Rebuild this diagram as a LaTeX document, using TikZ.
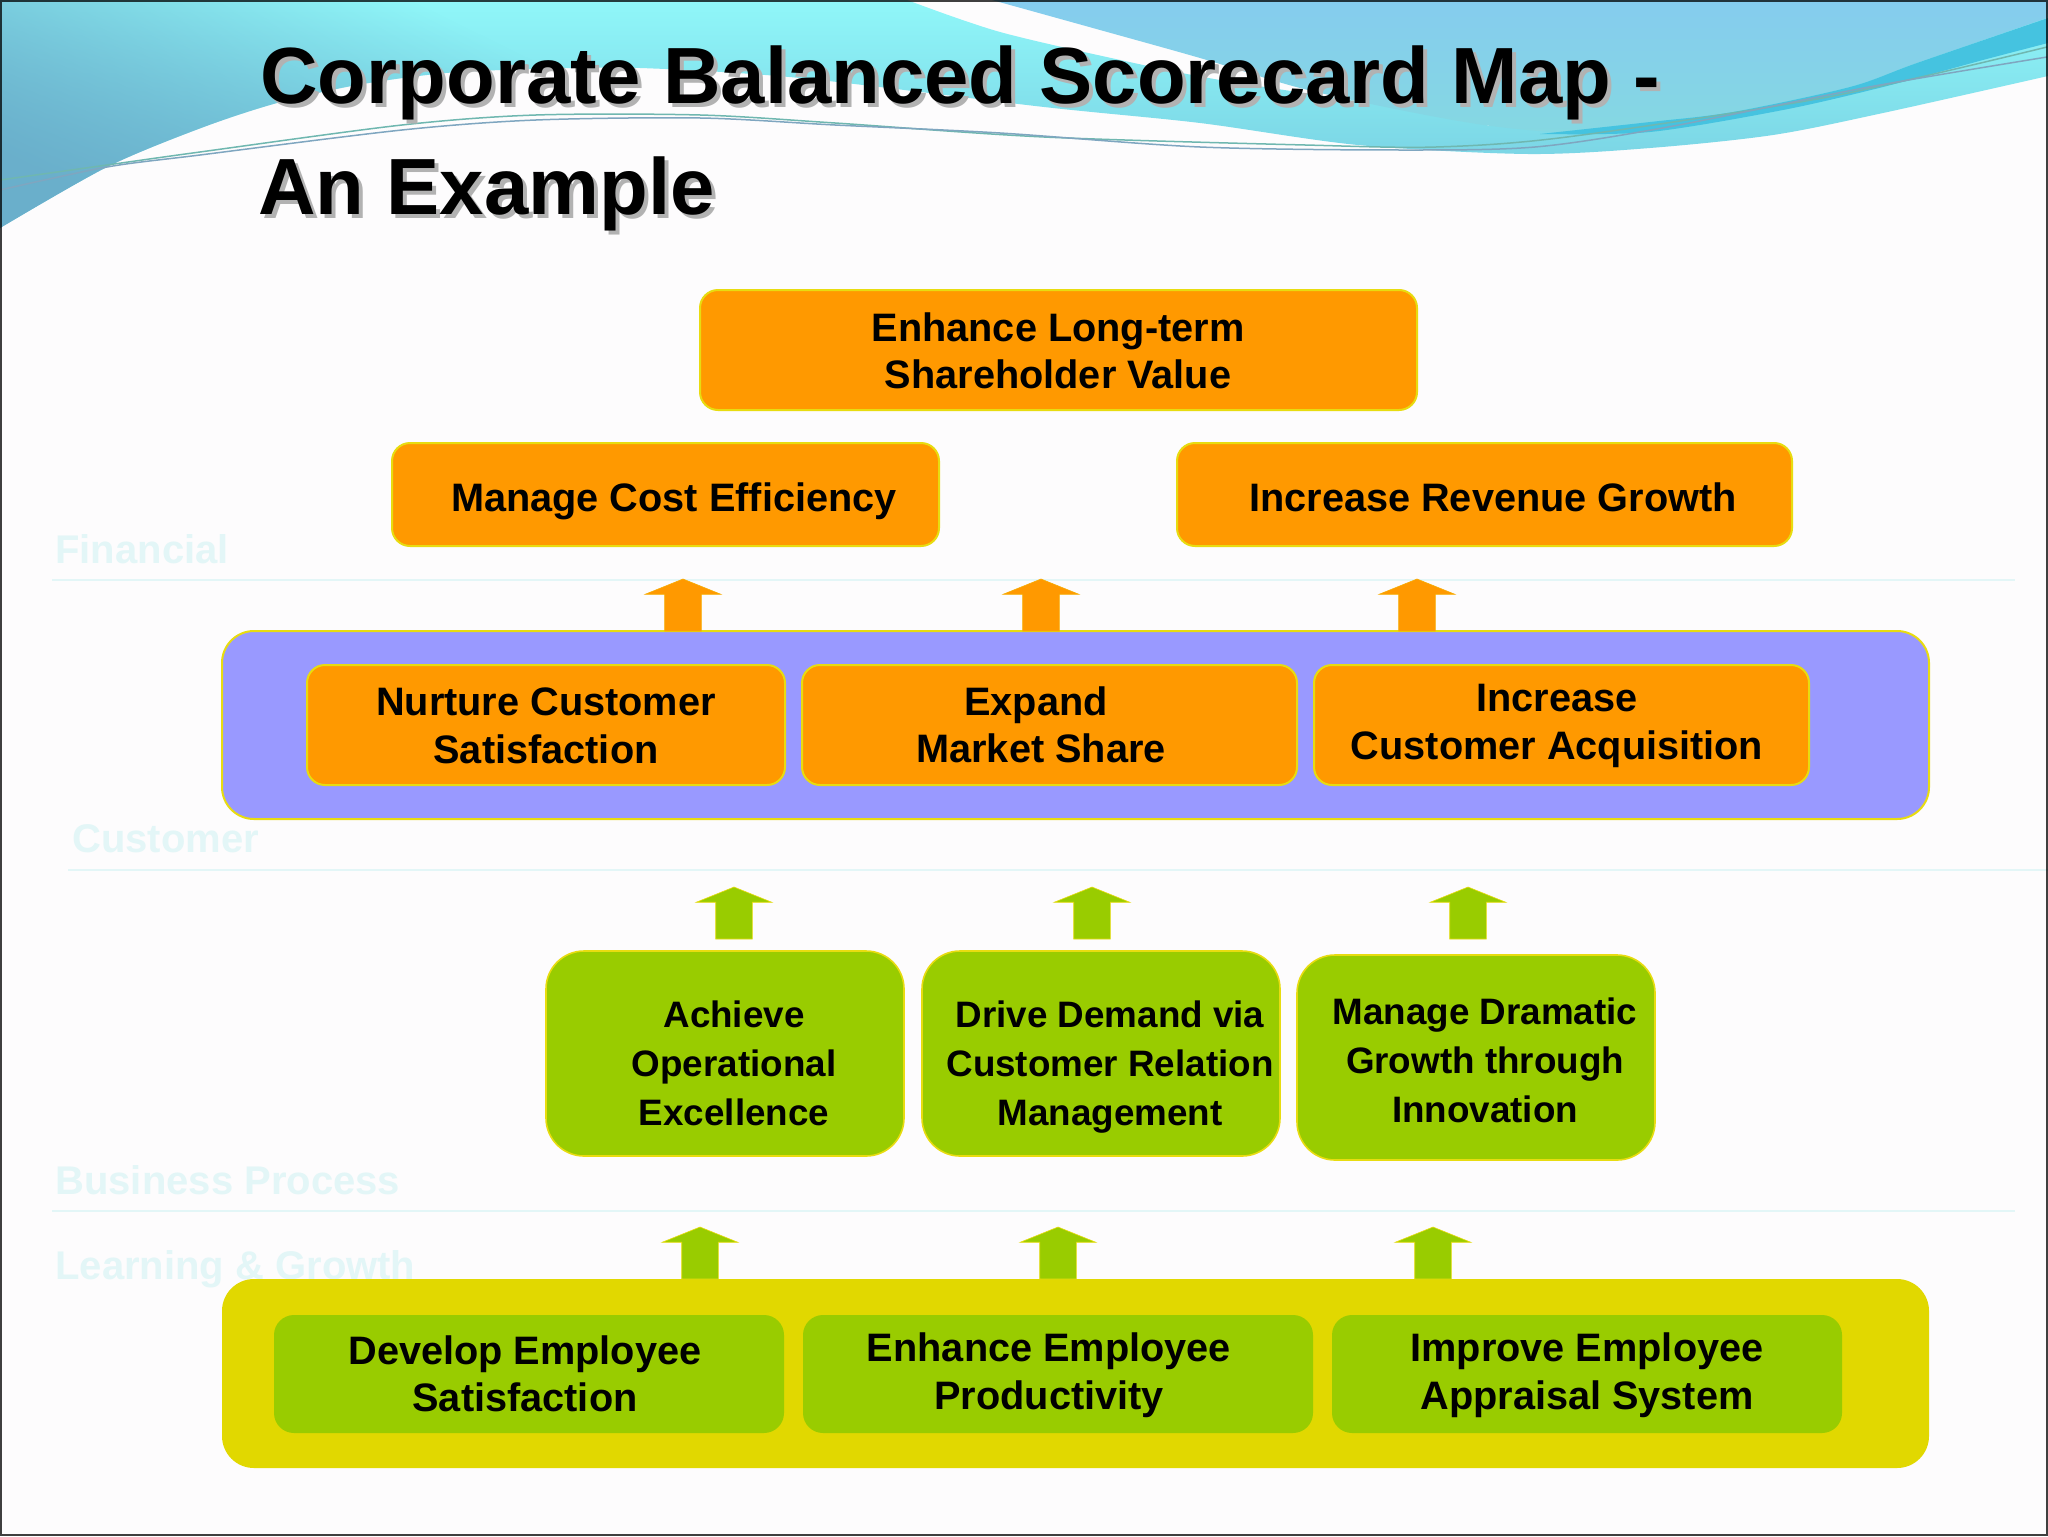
\documentclass[tikz,border=0pt]{standalone}
\usepackage{fontspec}
\setmainfont{Liberation Sans}
\usetikzlibrary{shapes.arrows,fadings}
\definecolor{pagebg}{HTML}{FDFCFD}
\definecolor{boxorange}{HTML}{FF9900}
\definecolor{boxpurple}{HTML}{9999FF}
\definecolor{boxgreen}{HTML}{99CC00}
\definecolor{boxyellow}{HTML}{E1D800}
\definecolor{edgeyellow}{HTML}{E8DC10}
\definecolor{faint}{HTML}{E3F6F7}
\definecolor{blueA}{HTML}{85CCEE}
\definecolor{blueB}{HTML}{85D8E2}
\definecolor{tealband}{HTML}{45C3E0}
\definecolor{cwA}{HTML}{6AAFCB}
\definecolor{cwD}{HTML}{90F7F9}
\definecolor{cwE}{HTML}{72C6DC}
\definecolor{wireone}{HTML}{6FB7B0}
\definecolor{wiretwo}{HTML}{7FA6C0}
\tikzfading[name=cwfade,left color=transparent!0,right color=transparent!100]
\tikzset{
  x=0.5pt,y=-0.5pt,
  basebox/.style={rectangle,inner sep=0pt,outer sep=0pt},
  orangebox/.style={basebox,fill=boxorange,draw=edgeyellow,line width=1pt,rounded corners=9pt},
  purplegroup/.style={basebox,fill=boxpurple,draw=edgeyellow,line width=1pt,rounded corners=16pt},
  yellowgroup/.style={basebox,fill=boxyellow,rounded corners=16pt},
  greenbox/.style={basebox,fill=boxgreen,draw=edgeyellow,line width=.8pt,rounded corners=19pt},
  greeninner/.style={basebox,fill=boxgreen,rounded corners=10pt},
  boxtext/.style={inner sep=0pt,align=center,font=\fontsize{19.85}{23.75}\selectfont\bfseries},
  boxtextthree/.style={inner sep=0pt,align=center,font=\fontsize{18.4}{24.5}\selectfont\bfseries},
  faintlabel/.style={inner sep=0pt,anchor=base west,text=faint,font=\fontsize{20}{23}\selectfont\bfseries},
  faintrule/.style={draw=faint,line width=1pt},
  titletext/.style={inner sep=0pt,anchor=base west,font=\fontsize{39.85}{48}\selectfont\bfseries},
  blockarrow/.style={single arrow,rotate=90,anchor=tail,inner sep=9pt,outer sep=0pt,
     minimum width=37.5pt,minimum height=26pt,single arrow head extend=9.75pt,
     single arrow tip angle=136},
  orangearrow/.style={blockarrow,fill=boxorange,draw=boxorange!70!edgeyellow,line width=.3pt},
  greenarrow/.style={blockarrow,fill=boxgreen,draw=edgeyellow,line width=.3pt},
  wireA/.style={draw=wireone,line width=.75pt},
  wireB/.style={draw=wiretwo,line width=.75pt},
}
\newcommand{\pxbox}[6]{\node[#2,minimum width={(#5-#3)*0.5pt},minimum height={(#6-#4)*0.5pt}] (#1) at ({(#3+#5)/2},{(#4+#6)/2}) {};}
\newcommand{\cyanwavepath}{(0,0) -- (907,0) -- plot[smooth] coordinates {(907,0)(1000,32)(1134,63)(1220,80)(1368,103)(1491,126)}
  -- (2048,0) -- (2048,76)
  -- plot[smooth] coordinates {(2048,76)(1883,113)(1773,135)(1650,148)(1528,154)(1358,145)(1200,123)(1044,107)(800,78)(640,68)(536,69)(446,73)(357,85)(277,103)(201,128)(107,167)(0,228)}
  -- cycle}
\begin{document}
\begin{tikzpicture}
\useasboundingbox (0,0) rectangle (2048,1536);
\fill[pagebg] (0,0) rectangle (2048,1536);
% cyan wave: vertical base, darker towards the lower left
\shade[top color=cwD,bottom color=cwE,middle color=cwD!50!cwE] \cyanwavepath;
\begin{scope}
\clip \cyanwavepath;
\fill[cwA,path fading=cwfade,fading angle=40] (0,0) rectangle (560,230);
\end{scope}
% blue wave
\shade[top color=blueA,bottom color=blueB]
  (992,0) -- plot[smooth] coordinates {(992,0)(1100,30)(1200,58)(1300,88)(1400,110)(1491,126)(1581,133)(1650,122)(1733,112)(1850,87)(1917,63)(2047,18)}
  -- (2048,0) -- cycle;
% teal band
\fill[tealband]
  plot[smooth] coordinates {(1540,134)(1650,122)(1733,112)(1850,87)(1917,63)(2048,18)}
  -- (2048,43)
  -- plot[smooth] coordinates {(2048,43)(1983,60)(1883,87)(1783,110)(1650,132)(1540,134)} -- cycle;
% wires
\draw[wireA] plot[smooth] coordinates {(0,180)(107,165)(200,152)(402,125)(536,115)(700,115)(835,123)(1044,137)(1305,145)(1436,147)(1567,137)(1828,97)(2047,47)};
\draw[wireB] plot[smooth] coordinates {(0,190)(107,167)(200,155)(402,130)(536,120)(700,118)(835,125)(1000,133)(1200,147)(1400,150)(1535,147)(1668,127)(1869,87)(2047,57)};
% title
\node[titletext,text=black!30] (titleshadowone) at (264,108) {Corporate Balanced Scorecard Map -};
\node[titletext,text=black!30] (titleshadowtwo) at (262,218) {An Example};
\node[titletext] (titleone) at (260,104) {Corporate Balanced Scorecard Map -};
\node[titletext] (titletwo) at (258,214) {An Example};
% faint perspective labels
\node[faintlabel] (lblfin) at (55,563) {Financial};
\draw[faintrule] (52,580) -- (2015,580);
\node[faintlabel] (lblcust) at (72,852) {Customer};
\draw[faintrule] (68,870) -- (2048,870);
\node[faintlabel] (lblbp) at (55,1194) {Business Process};
\draw[faintrule] (52,1211) -- (2015,1211);
\node[faintlabel] (lbllg) at (55,1279) {Learning \& Growth};
% boxes
\pxbox{purple}{purplegroup}{222}{631}{1929}{819}
\pxbox{yellow}{yellowgroup}{222}{1279}{1929}{1468}
\pxbox{top}{orangebox}{700}{290}{1417}{410}
\pxbox{cost}{orangebox}{392}{443}{939}{546}
\pxbox{rev}{orangebox}{1177}{443}{1792}{546}
\pxbox{nurt}{orangebox}{307}{665}{785}{785}
\pxbox{expd}{orangebox}{802}{665}{1297}{785}
\pxbox{acqu}{orangebox}{1314}{665}{1809}{785}
\pxbox{achv}{greenbox}{546}{951}{904}{1156}
\pxbox{driv}{greenbox}{922}{951}{1280}{1156}
\pxbox{mang}{greenbox}{1297}{955}{1655}{1160}
\pxbox{devl}{greeninner}{274}{1315}{784}{1433}
\pxbox{enhc}{greeninner}{803}{1315}{1313}{1433}
\pxbox{impr}{greeninner}{1332}{1315}{1842}{1433}
% block arrows
\node[orangearrow] (aone) at (683,0 |- purple.north) {};
\node[orangearrow] (atwo) at (1041,0 |- purple.north) {};
\node[orangearrow] (athree) at (1417,0 |- purple.north) {};
\node[greenarrow] (bone) at (734,939) {};
\node[greenarrow] (btwo) at (1092,939) {};
\node[greenarrow] (bthree) at (1468,939) {};
\node[greenarrow] (cone) at (700,0 |- yellow.north) {};
\node[greenarrow] (ctwo) at (1058,0 |- yellow.north) {};
\node[greenarrow] (cthree) at (1433,0 |- yellow.north) {};
% box labels
\node[boxtext] (ttop) at (1058,351) {Enhance Long-term\\Shareholder Value};
\node[boxtext] (tcost) at (674,501) {Manage Cost Efficiency};
\node[boxtext] (trev) at (1493,497) {Increase Revenue Growth};
\node[boxtext] (tnurt) at (546,726) {Nurture Customer\\Satisfaction};
\node[boxtext] (texpd) at (1041,725) {Expand\hspace*{5pt}\\Market Share};
\node[boxtext] (tacqu) at (1557,726) {Increase\\Customer Acquisition};
\node[boxtextthree] (tachv) at (734,1063) {Achieve\\Operational\\Excellence};
\node[boxtextthree] (tdriv) at (1110,1067) {Drive Demand via\\Customer Relation\\Management};
\node[boxtextthree] (tmang) at (1485,1060) {Manage Dramatic\\Growth through\\Innovation};
\node[boxtext] (tdevl) at (525,1374) {Develop Employee\\Satisfaction};
\node[boxtext] (tenhc) at (1049,1375) {Enhance Employee\\Productivity};
\node[boxtext] (timpr) at (1587,1375) {Improve Employee\\Appraisal System};
% slide border
\draw[black,opacity=.75,line width=1pt] (1,1) rectangle (2047,1535);
\end{tikzpicture}
\end{document}
